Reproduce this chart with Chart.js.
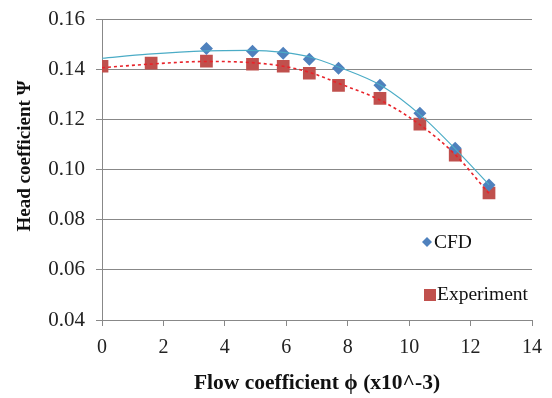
<!DOCTYPE html>
<html>
<head>
<meta charset="utf-8">
<script src="https://cdn.jsdelivr.net/npm/chart.js@4.4.1/dist/chart.umd.min.js"></script>
<style>
  html, body { margin: 0; padding: 0; background: #fff; }
  #wrap { width: 552px; height: 398px; }
</style>
</head>
<body>
<div id="wrap"><canvas id="chart"></canvas></div>
<script>
// data
const flowCfd = [3.4, 4.9, 5.9, 6.75, 7.7, 9.05, 10.35, 11.5, 12.6];
const headCfd = [0.1484, 0.1473, 0.1465, 0.1441, 0.1405, 0.1337, 0.1225, 0.1086, 0.0939];
const flowExp = [0, 1.6, 3.4, 4.9, 5.9, 6.75, 7.7, 9.05, 10.35, 11.5, 12.6];
const headExp = [0.1413, 0.1425, 0.1433, 0.1421, 0.1413, 0.1385, 0.1337, 0.1285, 0.1182, 0.1058, 0.0907];

// trendlines, also
const trendFlow = [0, 1.5, 3.4, 4.8, 5.9, 6.8, 7.7, 9.1, 10.4, 11.5, 12.6];
const trendCfd = [0.1445, 0.1461, 0.1474, 0.1476, 0.1468, 0.1449, 0.1410, 0.1335, 0.1215, 0.1083, 0.0940];
const trendExp = [0.1407, 0.1421, 0.1432, 0.1428, 0.1413, 0.1387, 0.1345, 0.1275, 0.1175, 0.1060, 0.0905];

const xTicks = [0, 2, 4, 6, 8, 10, 12, 14];
const yTicks = [0.04, 0.06, 0.08, 0.10, 0.12, 0.14, 0.16];

const seriesNames = ['CFD', 'Experiment'];
const cfdColor = '#4F81BD';
const expColor = '#C0504D';

const toPoints = (xs, ys) => xs.map((x, i) => ({ x: x, y: ys[i] }));

const serif = '"Liberation Serif", "Times New Roman", serif';

// y title and in-plot legend
const overlay = {
  id: 'overlay',
  afterDraw(chart) {
    const ctx = chart.ctx;
    ctx.save();
    ctx.translate(25, 156);
    ctx.rotate(-Math.PI / 2);
    ctx.font = 'bold 19px ' + serif;
    ctx.fillStyle = '#111';
    ctx.textAlign = 'center';
    ctx.textBaseline = 'middle';
    ctx.fillText('Head coefficient \u03A8', 0, 0);
    ctx.restore();

    ctx.save();
    ctx.font = '19.5px ' + serif;
    ctx.textBaseline = 'middle';
    // CFD diamond
    ctx.fillStyle = cfdColor;
    ctx.beginPath();
    ctx.moveTo(427, 237); ctx.lineTo(432, 242); ctx.lineTo(427, 247); ctx.lineTo(422, 242);
    ctx.closePath();
    ctx.fill();
    ctx.fillStyle = '#111';
    ctx.fillText(seriesNames[0], 434, 243);
    // Experiment square
    ctx.fillStyle = expColor;
    ctx.fillRect(424, 289, 12, 12);
    ctx.fillStyle = '#111';
    ctx.fillText(seriesNames[1], 437, 295);
    ctx.restore();
  }
};

new Chart(document.getElementById('chart'), {
  type: 'scatter',
  data: {
    datasets: [
      {
        label: 'CFD trend',
        type: 'line',
        data: toPoints(trendFlow, trendCfd),
        borderColor: '#4BACC6',
        borderWidth: 1.2,
        pointRadius: 0,
        cubicInterpolationMode: 'monotone',
        fill: false
      },
      {
        label: 'Experiment trend',
        type: 'line',
        data: toPoints(trendFlow, trendExp),
        borderColor: '#E8232A',
        borderWidth: 1.6,
        borderDash: [3, 3],
        pointRadius: 0,
        cubicInterpolationMode: 'monotone',
        fill: false
      },
      {
        label: seriesNames[0],
        data: toPoints(flowCfd, headCfd),
        pointStyle: 'rectRot',
        pointRadius: 6.5,
        backgroundColor: cfdColor,
        borderColor: cfdColor,
        borderWidth: 0
      },
      {
        label: seriesNames[1],
        data: toPoints(flowExp, headExp),
        pointStyle: 'rect',
        pointRadius: 9,
        backgroundColor: expColor,
        borderColor: expColor,
        borderWidth: 0
      }
    ]
  },
  options: {
    responsive: true,
    maintainAspectRatio: false,
    animation: false,
    layout: { padding: { left: 0, right: 20, top: 8, bottom: 0 } },
    plugins: {
      legend: { display: false },
      tooltip: { enabled: false }
    },
    scales: {
      x: {
        type: 'linear',
        min: 0,
        max: 14,
        afterBuildTicks: (scale) => { scale.ticks = xTicks.map(v => ({ value: v })); },
        afterFit: (scale) => { scale.height = 78; },
        grid: { drawOnChartArea: false, drawTicks: true, tickLength: 6, color: '#888' },
        border: { color: '#888' },
        ticks: { color: '#222', font: { family: serif, size: 20 }, padding: 10 },
        title: {
          display: true,
          text: 'Flow coefficient \u03D5 (x10^-3)',
          color: '#111',
          font: { family: serif, size: 21.5, weight: 'bold' },
          padding: { top: 4, bottom: 2 }
        }
      },
      y: {
        min: 0.04,
        max: 0.16,
        afterBuildTicks: (scale) => { scale.ticks = yTicks.map(v => ({ value: v })); },
        afterFit: (scale) => { scale.width = 102; },
        grid: { color: '#888', tickLength: 6 },
        border: { color: '#888' },
        ticks: {
          color: '#222',
          font: { family: serif, size: 21, lineHeight: 0.8 },
          padding: 11,
          callback: (v) => v.toFixed(2)
        }
      }
    }
  },
  plugins: [overlay]
});
</script>
</body>
</html>
